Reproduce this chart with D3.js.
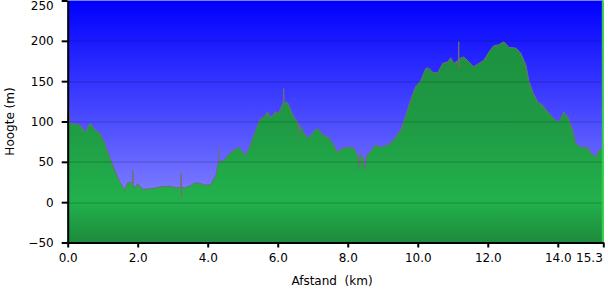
<!DOCTYPE html>
<html>
<head>
<meta charset="utf-8">
<script src="https://cdn.jsdelivr.net/npm/d3@7"></script>
<style>
  body { margin: 0; background: #fff; }
  text { font-family: "DejaVu Sans", Verdana, sans-serif; font-size: 12px; fill: #000; }
</style>
</head>
<body>
<div id="chart"></div>
<script>
// ===============Data
var distKm = [0.00, 0.03, 0.06, 0.34, 0.51, 0.63, 0.80, 0.91, 1.06, 1.20, 1.34, 1.49, 1.63, 1.71, 1.80, 1.85, 1.86, 1.87, 1.91, 2.00,
  2.14, 2.43, 2.63, 2.91, 3.09, 3.23, 3.24, 3.25, 3.26, 3.34, 3.49, 3.63, 3.80, 3.94, 4.09, 4.23, 4.30, 4.31, 4.32, 4.46,
  4.66, 4.89, 5.09, 5.23, 5.37, 5.51, 5.60, 5.71, 5.80, 5.94, 6.03, 6.16, 6.17, 6.18, 6.29, 6.43, 6.57, 6.60, 6.61, 6.71,
  6.86, 7.00, 7.14, 7.29, 7.43, 7.57, 7.71, 7.86, 8.00, 8.17, 8.29, 8.33, 8.36, 8.43, 8.50, 8.53, 8.57, 8.66, 8.80, 8.94,
  9.14, 9.31, 9.51, 9.66, 9.80, 9.94, 10.09, 10.23, 10.31, 10.43, 10.57, 10.71, 10.86, 10.94, 11.03, 11.16, 11.17, 11.18, 11.19, 11.31,
  11.46, 11.60, 11.74, 11.89, 12.03, 12.17, 12.31, 12.46, 12.60, 12.80, 12.94, 13.09, 13.17, 13.29, 13.43, 13.57, 13.71, 13.86, 14.00, 14.09,
  14.17, 14.29, 14.43, 14.51, 14.66, 14.86, 14.94, 15.09, 15.17, 15.30];

var elevM = [100, 117, 98, 96, 87, 98, 89, 86, 73, 56, 40, 25, 15, 24, 25, 22, 40, 22, 17, 23,
  16, 17, 19, 20, 18, 18, 36, 6, 18, 18, 20, 24, 23, 21, 22, 33, 48, 67, 50, 52,
  62, 68, 58, 73, 89, 104, 105, 112, 105, 112, 110, 124, 141, 124, 123, 108, 99, 83, 97, 89,
  79, 86, 92, 83, 81, 73, 62, 67, 68, 67, 58, 42, 60, 56, 40, 58, 58, 64, 71, 68,
  71, 77, 89, 108, 127, 143, 151, 166, 166, 161, 160, 172, 174, 179, 172, 176, 199, 166, 178, 180,
  174, 168, 172, 176, 186, 194, 195, 199, 192, 191, 185, 170, 151, 136, 124, 120, 112, 105, 99, 104,
  112, 105, 89, 73, 68, 68, 61, 56, 64, 67];

var xTicks = [0, 2, 4, 6, 8, 10, 12, 14, 15.3];
var yTicks = [-50, 0, 50, 100, 150, 200, 250];
var gridTicks = [0, 50, 100, 150, 200];

// ===========Set Height, Width and Margins
var svgWidth = 608;
var svgHeight = 294;
var margin = { top: 0.5, right: 4.7, bottom: 51.5, left: 67.7 };
var width = svgWidth - margin.left - margin.right;
var height = svgHeight - margin.top - margin.bottom;

var svg = d3.select("#chart").append("svg")
  .attr("width", svgWidth)
  .attr("height", svgHeight);

var chartGroup = svg.append("g")
  .attr("transform", `translate(${margin.left}, ${margin.top})`);

// ==========Scales
var xLinearScale = d3.scaleLinear().domain([0, 15.3]).range([0, width]);
var yLinearScale = d3.scaleLinear().domain([-50, 250]).range([height, 0]);

// ==========Gradients
var defs = svg.append("defs");
var skyGrad = defs.append("linearGradient")
  .attr("id", "sky").attr("x1", 0).attr("y1", 0).attr("x2", 0).attr("y2", 1);
skyGrad.append("stop").attr("offset", "0%").attr("stop-color", "#0000ff");
skyGrad.append("stop").attr("offset", "100%").attr("stop-color", "#9a9aff");

var groundGrad = defs.append("linearGradient")
  .attr("id", "ground").attr("gradientUnits", "userSpaceOnUse")
  .attr("x1", 0).attr("y1", 0).attr("x2", 0).attr("y2", height);
groundGrad.append("stop").attr("offset", "0%").attr("stop-color", "#1c8c3d");
groundGrad.append("stop").attr("offset", "50%").attr("stop-color", "#1f9a44");
groundGrad.append("stop").attr("offset", "83%").attr("stop-color", "#22b14c");
groundGrad.append("stop").attr("offset", "100%").attr("stop-color", "#1d8a3c");

chartGroup.append("rect")
  .attr("width", width)
  .attr("height", height)
  .attr("fill", "url(#sky)");

// ===========Elevation area
var profile = distKm.map((d, i) => ({ km: d, m: elevM[i] }));

var area = d3.area()
  .x(d => xLinearScale(d.km))
  .y0(height)
  .y1(d => yLinearScale(d.m));

var line = d3.line()
  .x(d => xLinearScale(d.km))
  .y(d => yLinearScale(d.m));

chartGroup.append("path")
  .datum(profile)
  .attr("d", area)
  .attr("fill", "url(#ground)");

chartGroup.append("path")
  .datum(profile)
  .attr("d", line)
  .attr("fill", "none")
  .attr("stroke", "#6f6f6f")
  .attr("stroke-width", 1);

// ===========Grid lines
chartGroup.selectAll(".grid")
  .data(gridTicks)
  .enter()
  .append("line")
  .attr("x1", 0)
  .attr("x2", width)
  .attr("y1", d => Math.round(yLinearScale(d)) + 0.5)
  .attr("y2", d => Math.round(yLinearScale(d)) + 0.5)
  .attr("stroke", "#000")
  .attr("stroke-opacity", 0.2);

// green marker at the end of the track
chartGroup.append("line")
  .attr("x1", width - 0.5).attr("x2", width - 0.5)
  .attr("y1", 0).attr("y2", height)
  .attr("stroke", "#2fcf45")
  .attr("stroke-width", 2);

// ==========Axes
var bottomAxis = d3.axisBottom(xLinearScale)
  .tickValues(xTicks)
  .tickFormat(d3.format(".1f"))
  .tickSizeInner(5)
  .tickSizeOuter(0)
  .tickPadding(6);

var leftAxis = d3.axisLeft(yLinearScale)
  .tickValues(yTicks)
  .tickSizeInner(6)
  .tickSizeOuter(0)
  .tickPadding(8);

var xAxis = chartGroup.append("g")
  .attr("transform", `translate(0, ${height})`)
  .call(bottomAxis);

var yAxis = chartGroup.append("g")
  .call(leftAxis);

[xAxis, yAxis].forEach(function(ax) {
  ax.select(".domain").attr("stroke", "#000").attr("stroke-width", 2);
  ax.selectAll(".tick line").attr("stroke", "#000").attr("stroke-width", 2);
  ax.selectAll(".tick text").style("font-size", "12px").attr("fill", "#000");
});

// keep the end labels inside the picture
xAxis.selectAll(".tick text")
  .filter(d => d === 15.3)
  .attr("text-anchor", "end")
  .attr("dx", -1);

yAxis.selectAll(".tick text")
  .filter(d => d === 250)
  .attr("dy", "0.76em");

// ===========Axis labels
svg.append("text")
  .attr("x", 332)
  .attr("y", 285)
  .attr("text-anchor", "middle")
  .style("white-space", "pre")
  .text("Afstand  (km)");

svg.append("text")
  .attr("transform", `translate(14, ${margin.top + height / 2}) rotate(-90)`)
  .attr("text-anchor", "middle")
  .style("white-space", "pre")
  .text("Hoogte (m)");
</script>
</body>
</html>
